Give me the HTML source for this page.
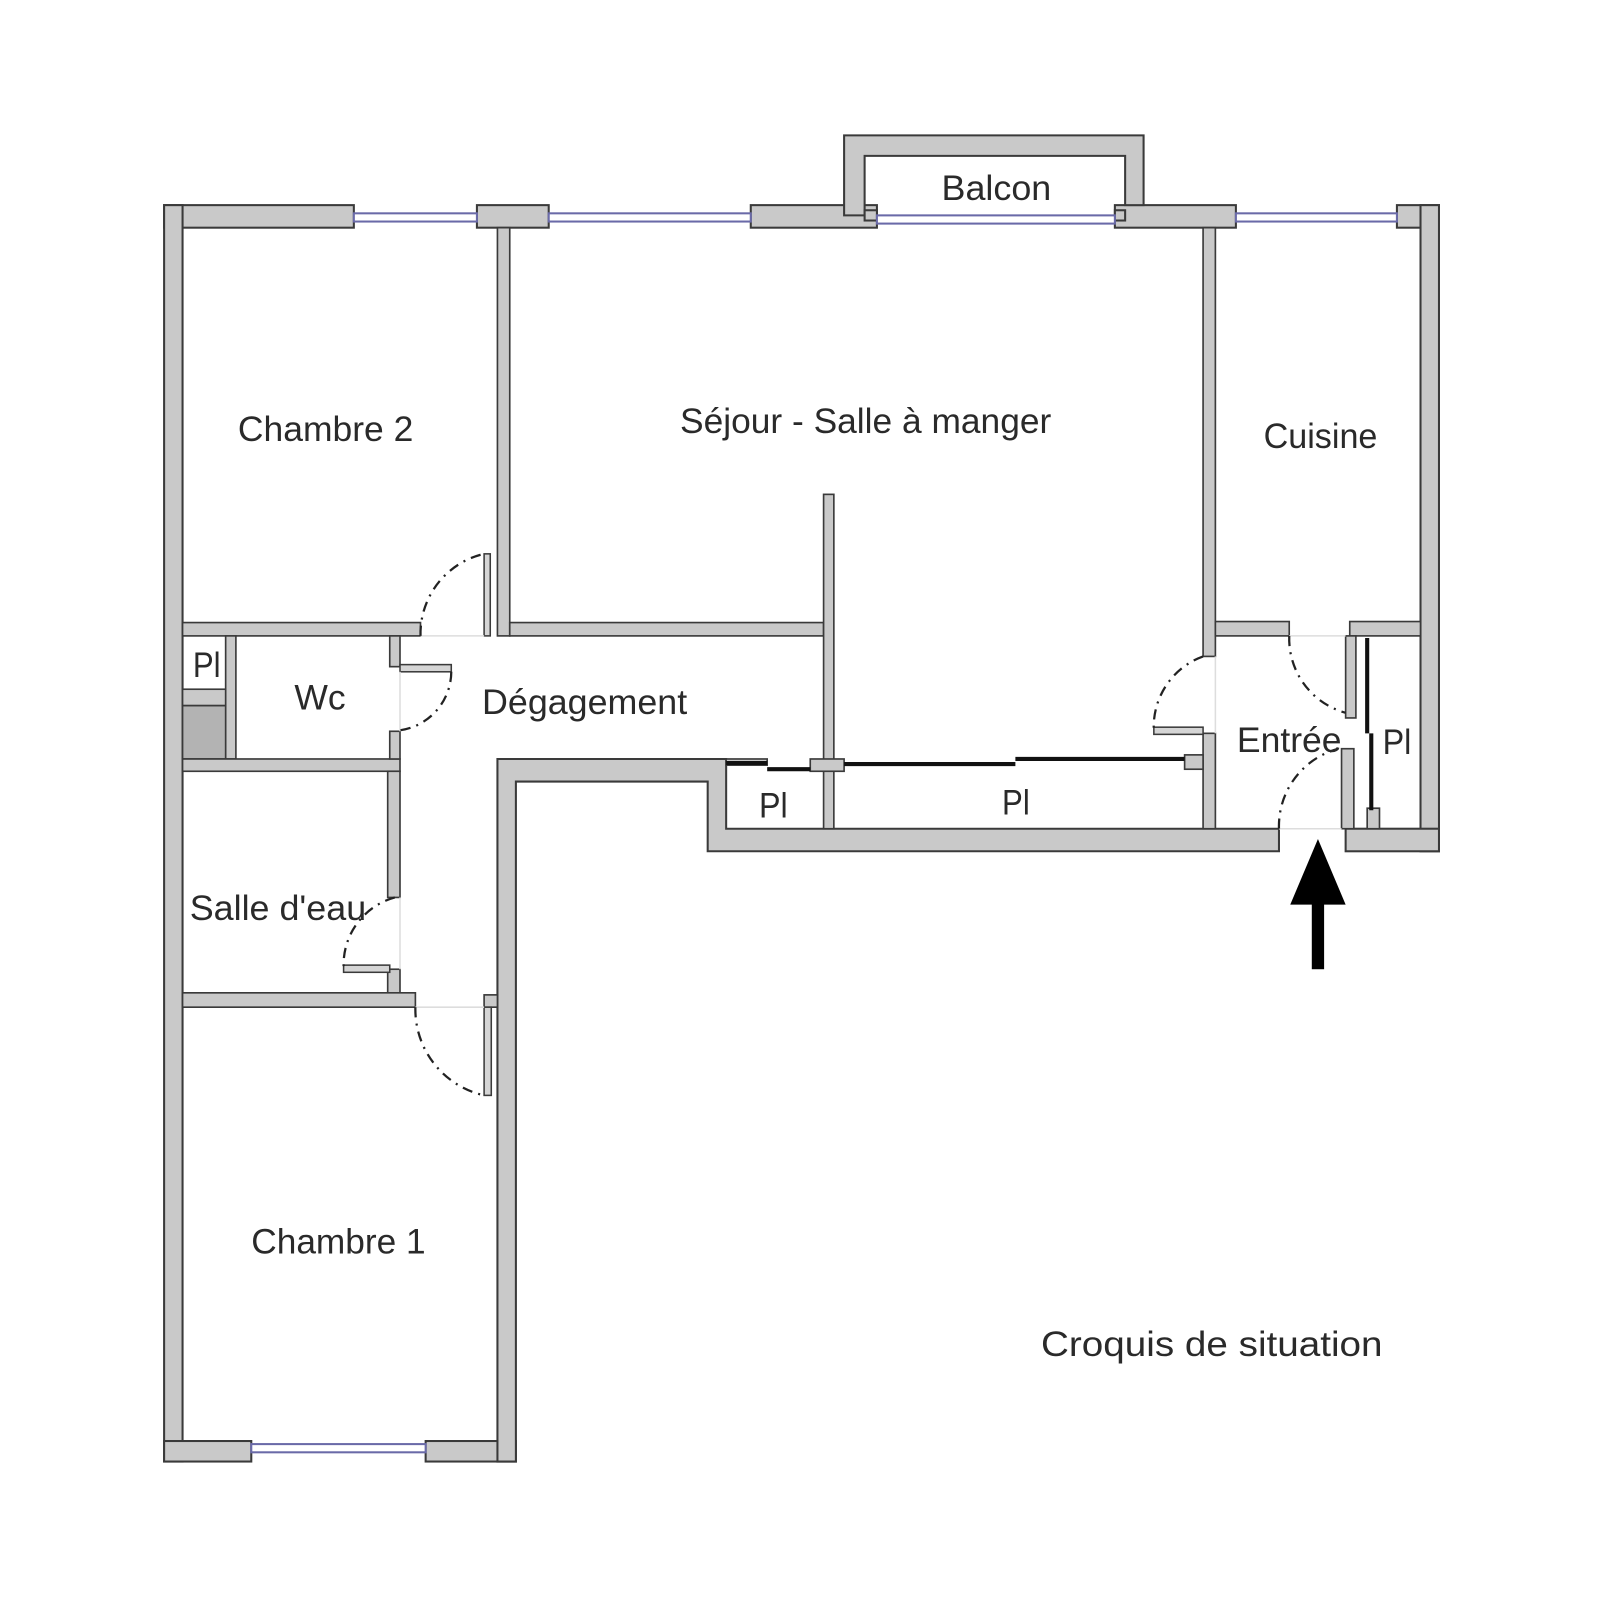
<!DOCTYPE html>
<html><head><meta charset="utf-8"><style>
html,body{margin:0;padding:0;background:#fff;}
svg{display:block;}
text{font-family:"Liberation Sans",sans-serif;fill:#2a2a2a;}
</style></head><body>
<svg width="1600" height="1600" viewBox="0 0 1560 1560" xmlns="http://www.w3.org/2000/svg">
<g fill="#c9c9c9" stroke="#3a3a3a" stroke-width="2">
<!-- top wall segments -->
<rect x="160" y="200" width="185" height="22"/>
<rect x="465" y="200" width="70" height="22"/>
<rect x="732" y="200" width="123" height="22"/>
<rect x="1087" y="200" width="118" height="22"/>
<rect x="1362" y="200" width="41" height="22"/>
<!-- balcony -->
<path d="M823 200 V132 H1115 V200 H1097 V152 H843 V210 H823 Z"/>
<rect x="843" y="205" width="12" height="10"/>
<rect x="1087" y="205" width="10" height="10"/>
<!-- left wall -->
<rect x="160" y="200" width="18" height="1225"/>
<!-- right wall -->
<rect x="1385" y="200" width="18" height="630"/>
<!-- bottom wall -->
<rect x="160" y="1405" width="85" height="20"/>
<rect x="415" y="1405" width="88" height="20"/>
<!-- L outer -->
<path d="M485 740 H708 V808 H1247 V830 H690 V762 H503 V1425 H485 Z"/>
<rect x="1312" y="808" width="91" height="22"/>
</g>
<!-- windows -->
<g fill="#fff" stroke="#6a6aa8" stroke-width="2">
<rect x="345" y="208" width="120" height="8"/>
<rect x="535" y="208" width="197" height="8"/>
<rect x="855" y="210" width="232" height="8"/>
<rect x="1205" y="208" width="157" height="8"/>
<rect x="245" y="1408" width="170" height="8"/>
</g>
<!-- interior walls -->
<g fill="#c9c9c9" stroke="#3a3a3a" stroke-width="1.6">
<rect x="485" y="222" width="12" height="398"/>
<rect x="1173" y="222" width="12" height="418"/>
<rect x="1173" y="715" width="12" height="93"/>
<rect x="1185" y="606" width="72" height="14"/>
<rect x="1316" y="606" width="69" height="14"/>
<rect x="178" y="607" width="232" height="13"/>
<rect x="497" y="607" width="306" height="13"/>
<rect x="803" y="482" width="10" height="326"/>
<rect x="220" y="620" width="10" height="120"/>
<rect x="178" y="672" width="42" height="16"/>
<rect x="178" y="688" width="42" height="52" fill="#b3b3b3"/>
<rect x="178" y="740" width="212" height="12"/>
<rect x="380" y="620" width="10" height="30"/>
<rect x="380" y="713" width="10" height="27"/>
<rect x="378" y="752" width="12" height="123"/>
<rect x="378" y="945" width="12" height="25"/>
<rect x="178" y="968" width="227" height="14"/>
<rect x="472" y="970" width="13" height="12"/>
<rect x="708" y="740" width="40" height="6"/>
<rect x="790" y="740" width="33" height="12"/>
<rect x="1155" y="736" width="18" height="14"/>
<rect x="1312" y="620" width="10" height="80"/>
<rect x="1308" y="730" width="12" height="78"/>
<rect x="1333" y="788" width="12" height="20"/>
</g>
<!-- door leaves -->
<g fill="#d5d5d5" stroke="#3a3a3a" stroke-width="1.5">
<rect x="472" y="540" width="6" height="80"/>
<rect x="390" y="648" width="50" height="7"/>
<rect x="335" y="941" width="45" height="7"/>
<rect x="472" y="982" width="7" height="86"/>
<rect x="1125" y="709" width="48" height="7"/>
</g>
<!-- sliding doors -->
<g stroke="#111" stroke-width="4">
<line x1="708" y1="744" x2="748" y2="744"/>
<line x1="748" y1="750" x2="790" y2="750"/>
<line x1="823" y1="745" x2="990" y2="745"/>
<line x1="990" y1="740" x2="1155" y2="740"/>
<line x1="1333" y1="622" x2="1333" y2="715"/>
<line x1="1337" y1="715" x2="1337" y2="790"/>
</g>
<!-- faint thresholds -->
<g stroke="#ddd" stroke-width="1.5">
<line x1="410" y1="620" x2="472" y2="620"/>
<line x1="390" y1="655" x2="390" y2="713"/>
<line x1="390" y1="875" x2="390" y2="945"/>
<line x1="405" y1="982" x2="472" y2="982"/>
<line x1="1257" y1="620" x2="1312" y2="620"/>
<line x1="1247" y1="808" x2="1308" y2="808"/>
<line x1="1185" y1="640" x2="1185" y2="715"/>
</g>
<!-- door arcs -->
<g fill="none" stroke="#222" stroke-width="2.2" stroke-dasharray="10 6 2 6">
<path d="M410 620 A80 80 0 0 1 472 540"/>
<path d="M440 655 A58 58 0 0 1 390 712"/>
<path d="M385 875 A68 68 0 0 0 335 942"/>
<path d="M405 982 A86 86 0 0 0 472 1068"/>
<path d="M1173 640 A73 73 0 0 0 1125 713"/>
<path d="M1257 620 A75 75 0 0 0 1312 695"/>
<path d="M1247 808 A78 78 0 0 1 1305 730"/>
</g>
<!-- arrow -->
<rect x="1279" y="875" width="12" height="70" fill="#000"/>
<polygon points="1258,882 1312,882 1285,818" fill="#000"/>
<!-- labels -->
<g font-size="34">
<text x="918" y="195" textLength="107" lengthAdjust="spacingAndGlyphs">Balcon</text>
<text x="232" y="430" textLength="171" lengthAdjust="spacingAndGlyphs">Chambre 2</text>
<text x="663" y="422" textLength="362" lengthAdjust="spacingAndGlyphs">Séjour - Salle à manger</text>
<text x="1232" y="437" textLength="111" lengthAdjust="spacingAndGlyphs">Cuisine</text>
<text x="287" y="692" textLength="50" lengthAdjust="spacingAndGlyphs">Wc</text>
<text x="470" y="696" textLength="200" lengthAdjust="spacingAndGlyphs">Dégagement</text>
<text x="188" y="660" textLength="27" lengthAdjust="spacingAndGlyphs">Pl</text>
<text x="1206" y="733" textLength="102" lengthAdjust="spacingAndGlyphs">Entrée</text>
<text x="1348" y="735" textLength="28" lengthAdjust="spacingAndGlyphs">Pl</text>
<text x="740" y="797" textLength="28" lengthAdjust="spacingAndGlyphs">Pl</text>
<text x="977" y="794" textLength="27" lengthAdjust="spacingAndGlyphs">Pl</text>
<text x="185" y="897" textLength="172" lengthAdjust="spacingAndGlyphs">Salle d'eau</text>
<text x="245" y="1222" textLength="170" lengthAdjust="spacingAndGlyphs">Chambre 1</text>
<text x="1015" y="1322" textLength="333" lengthAdjust="spacingAndGlyphs">Croquis de situation</text>
</g>
</svg>
</body></html>
